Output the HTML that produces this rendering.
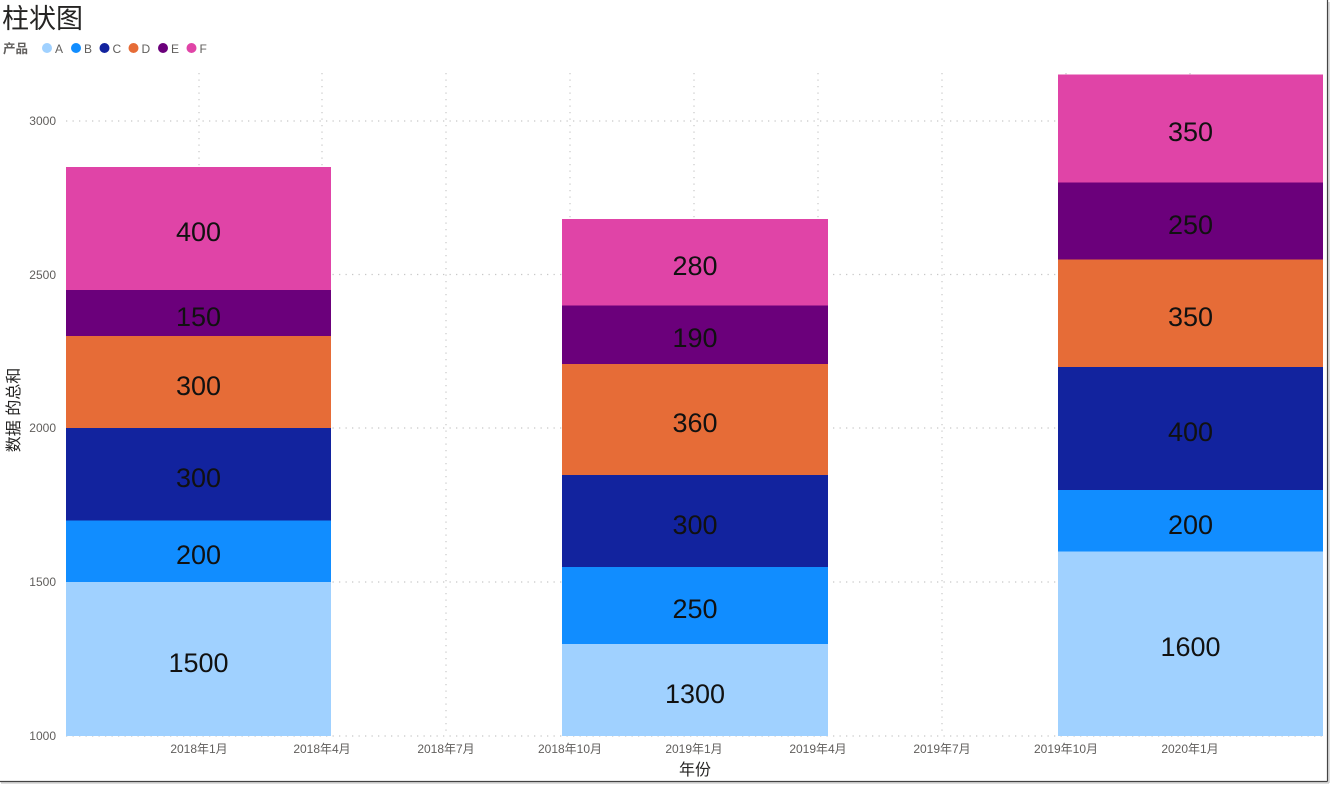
<!DOCTYPE html>
<html>
<head>
<meta charset="utf-8">
<style>
html,body{margin:0;padding:0;background:#fff;}
body{width:1332px;height:785px;overflow:hidden;position:relative;}
svg{position:absolute;left:0;top:0;}
text{font-family:"Liberation Sans","Noto Sans CJK SC",sans-serif;}
</style>
</head>
<body>
<svg width="1332" height="785" viewBox="0 0 1332 785" xmlns="http://www.w3.org/2000/svg">
  <!-- frame -->
  <line x1="1327.5" y1="0" x2="1327.5" y2="781.5" stroke="#444" stroke-width="1.2"/>
  <line x1="0" y1="781.5" x2="1327.5" y2="781.5" stroke="#444" stroke-width="1.2"/>
  <line x1="1329" y1="2" x2="1329" y2="783" stroke="#bbb" stroke-width="1"/>
  <line x1="1" y1="783" x2="1329" y2="783" stroke="#bbb" stroke-width="1"/>

  <!-- title -->
  <text x="2" y="28" font-size="27" fill="#252423">柱状图</text>

  <!-- legend -->
  <text x="3" y="53" font-size="12.5" font-weight="bold" fill="#605E5C">产品</text>
  <circle cx="47" cy="48" r="5" fill="#A0D1FF"/><text x="55" y="53" font-size="12" fill="#605E5C">A</text>
  <circle cx="76" cy="48" r="5" fill="#118DFF"/><text x="84" y="53" font-size="12" fill="#605E5C">B</text>
  <circle cx="104.5" cy="48" r="5" fill="#12239E"/><text x="112.5" y="53" font-size="12" fill="#605E5C">C</text>
  <circle cx="133.5" cy="48" r="5" fill="#E66C37"/><text x="141.5" y="53" font-size="12" fill="#605E5C">D</text>
  <circle cx="163" cy="48" r="5" fill="#6B007B"/><text x="171" y="53" font-size="12" fill="#605E5C">E</text>
  <circle cx="191.5" cy="48" r="5" fill="#E044A7"/><text x="199.5" y="53" font-size="12" fill="#605E5C">F</text>

  <!-- gridlines -->
  <g stroke="#c8c8c8" stroke-width="1.2" stroke-dasharray="1.3 5.2">
    <line x1="199" y1="73" x2="199" y2="736"/>
    <line x1="322" y1="73" x2="322" y2="736"/>
    <line x1="446" y1="73" x2="446" y2="736"/>
    <line x1="570" y1="73" x2="570" y2="736"/>
    <line x1="694" y1="73" x2="694" y2="736"/>
    <line x1="818" y1="73" x2="818" y2="736"/>
    <line x1="942" y1="73" x2="942" y2="736"/>
    <line x1="1066" y1="73" x2="1066" y2="736"/>
    <line x1="1190" y1="73" x2="1190" y2="736"/>
    <line x1="66" y1="121" x2="1323" y2="121"/>
    <line x1="66" y1="274.5" x2="1323" y2="274.5"/>
    <line x1="66" y1="428" x2="1323" y2="428"/>
    <line x1="66" y1="582" x2="1323" y2="582"/>
    <line x1="66" y1="736" x2="1323" y2="736"/>
  </g>

  <!-- y axis labels -->
  <g font-size="12" fill="#605E5C" text-anchor="end">
    <text x="56" y="125">3000</text>
    <text x="56" y="279">2500</text>
    <text x="56" y="432">2000</text>
    <text x="56" y="586">1500</text>
    <text x="56" y="740">1000</text>
  </g>
  <text transform="translate(19,410) rotate(-90)" font-size="16" fill="#252423" text-anchor="middle">数据 的总和</text>

  <!-- x axis labels -->
  <g font-size="12" fill="#605E5C" text-anchor="middle">
    <text x="199" y="753">2018年1月</text>
    <text x="322" y="753">2018年4月</text>
    <text x="446" y="753">2018年7月</text>
    <text x="570" y="753">2018年10月</text>
    <text x="694" y="753">2019年1月</text>
    <text x="818" y="753">2019年4月</text>
    <text x="942" y="753">2019年7月</text>
    <text x="1066" y="753">2019年10月</text>
    <text x="1190" y="753">2020年1月</text>
  </g>
  <text x="695" y="775" font-size="16" fill="#252423" text-anchor="middle">年份</text>

  <!-- bar 1 -->
  <rect x="66" y="582" width="265" height="154" fill="#A0D1FF"/>
  <rect x="66" y="520.5" width="265" height="61.5" fill="#118DFF"/>
  <rect x="66" y="428" width="265" height="92.5" fill="#12239E"/>
  <rect x="66" y="336" width="265" height="92" fill="#E66C37"/>
  <rect x="66" y="290" width="265" height="46" fill="#6B007B"/>
  <rect x="66" y="167" width="265" height="123" fill="#E044A7"/>

  <!-- bar 2 -->
  <rect x="562" y="644" width="266" height="92" fill="#A0D1FF"/>
  <rect x="562" y="567" width="266" height="77" fill="#118DFF"/>
  <rect x="562" y="475" width="266" height="92" fill="#12239E"/>
  <rect x="562" y="364" width="266" height="111" fill="#E66C37"/>
  <rect x="562" y="305.5" width="266" height="58.5" fill="#6B007B"/>
  <rect x="562" y="219" width="266" height="86.5" fill="#E044A7"/>

  <!-- bar 3 -->
  <rect x="1058" y="551.5" width="265" height="184.5" fill="#A0D1FF"/>
  <rect x="1058" y="490" width="265" height="61.5" fill="#118DFF"/>
  <rect x="1058" y="367" width="265" height="123" fill="#12239E"/>
  <rect x="1058" y="259.5" width="265" height="107.5" fill="#E66C37"/>
  <rect x="1058" y="182.5" width="265" height="77" fill="#6B007B"/>
  <rect x="1058" y="74.5" width="265" height="108" fill="#E044A7"/>

  <!-- data labels -->
  <g font-size="27" fill="#111" text-anchor="middle">
    <text x="198.5" y="672">1500</text>
    <text x="198.5" y="564">200</text>
    <text x="198.5" y="487">300</text>
    <text x="198.5" y="395">300</text>
    <text x="198.5" y="326">150</text>
    <text x="198.5" y="241">400</text>

    <text x="695" y="703">1300</text>
    <text x="695" y="618">250</text>
    <text x="695" y="534">300</text>
    <text x="695" y="432">360</text>
    <text x="695" y="347">190</text>
    <text x="695" y="275">280</text>

    <text x="1190.5" y="656">1600</text>
    <text x="1190.5" y="534">200</text>
    <text x="1190.5" y="441">400</text>
    <text x="1190.5" y="326">350</text>
    <text x="1190.5" y="234">250</text>
    <text x="1190.5" y="141">350</text>
  </g>
</svg>
</body>
</html>
